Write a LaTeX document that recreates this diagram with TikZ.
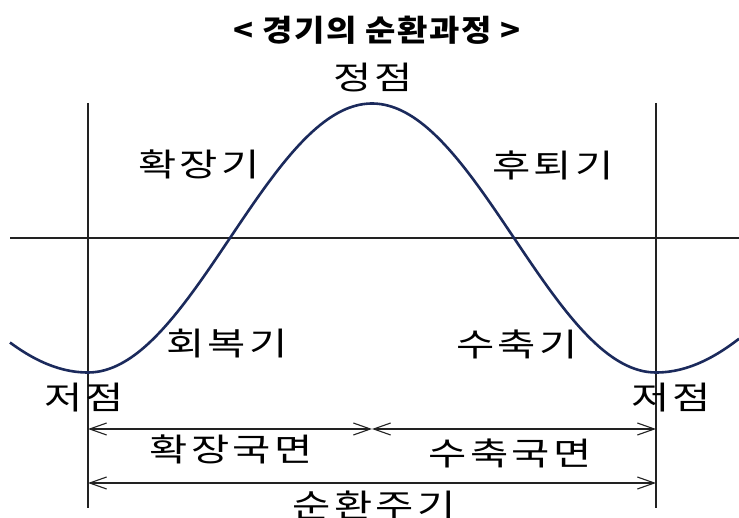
\documentclass[tikz,border=0pt]{standalone}
\usepackage{fontspec}
\setmainfont{Noto Sans CJK KR}
\newfontfamily\labfont[FakeStretch=1.3,LetterSpace=10]{Noto Sans CJK KR}
\newfontfamily\titfont[FakeStretch=1.1,LetterSpace=5]{Noto Sans CJK KR}
\usetikzlibrary{arrows.meta}
\definecolor{curvecol}{HTML}{1B2A5C}
\definecolor{linecol}{HTML}{222222}
\begin{document}
\begin{tikzpicture}[x=1pt,y=-1pt,
  lab/.style={inner sep=0pt,font=\labfont\fontsize{32}{33}\selectfont},
  ttl/.style={inner sep=0pt,font=\titfont\bfseries\fontsize{30}{31}\selectfont},
  thin/.style={draw=linecol,line width=1.1pt},
  curve/.style={draw=curvecol,line width=2.6pt},
  dim/.style={draw=linecol,line width=1.1pt,{Straight Barb[length=17pt,width=12pt]}-{Straight Barb[length=17pt,width=12pt]}}]
\useasboundingbox (0,0) rectangle (739,518);
% guide lines
\coordinate (vlt) at (88,103);
\coordinate (vlb) at (88,508);
\coordinate (vrt) at (656,103);
\coordinate (vrb) at (656,508);
\coordinate (axl) at (10,238);
\coordinate (axr) at (739,238);
\draw[thin] (vlt) -- (vlb);
\draw[thin] (vrt) -- (vrb);
\draw[thin] (axl) -- (axr);
% curve
\draw[curve] plot[domain=10:88,samples=40] (\x,{238+134.5*cos((88-\x)/360*180)})
  -- plot[domain=88:656,samples=160] (\x,{238+134.5*cos((\x-88)/284*180)})
  -- plot[domain=656:739,samples=40] (\x,{238+134.5*cos((\x-656)/360*180)});
% dimension arrows
\coordinate (a1l) at (88,429);
\coordinate (a1m) at (372,429);
\coordinate (a1r) at (656,429);
\coordinate (a2l) at (88,483);
\coordinate (a2r) at (656,483);
\draw[dim] (a1l) -- (a1m);
\draw[dim] (a1m) -- (a1r);
\draw[dim] (a2l) -- (a2r);
% texts
\node[ttl] (title) at (377,30) {< 경기의 순환과정 >};
\node[lab] (peak) at (373,78) {정점};
\node[lab] (exp) at (199,164) {확장기};
\node[lab] (rec) at (553,165) {후퇴기};
\node[lab] (recov) at (227,344) {회복기};
\node[lab] (contr) at (517,344) {수축기};
\node[lab] (troughl) at (84,398) {저점};
\node[lab] (troughr) at (671,398) {저점};
\node[lab] (expph) at (231,449) {확장국면};
\node[lab] (conph) at (510,453) {수축국면};
\node[lab] (cycle) at (374,505) {순환주기};
\end{tikzpicture}
\end{document}
